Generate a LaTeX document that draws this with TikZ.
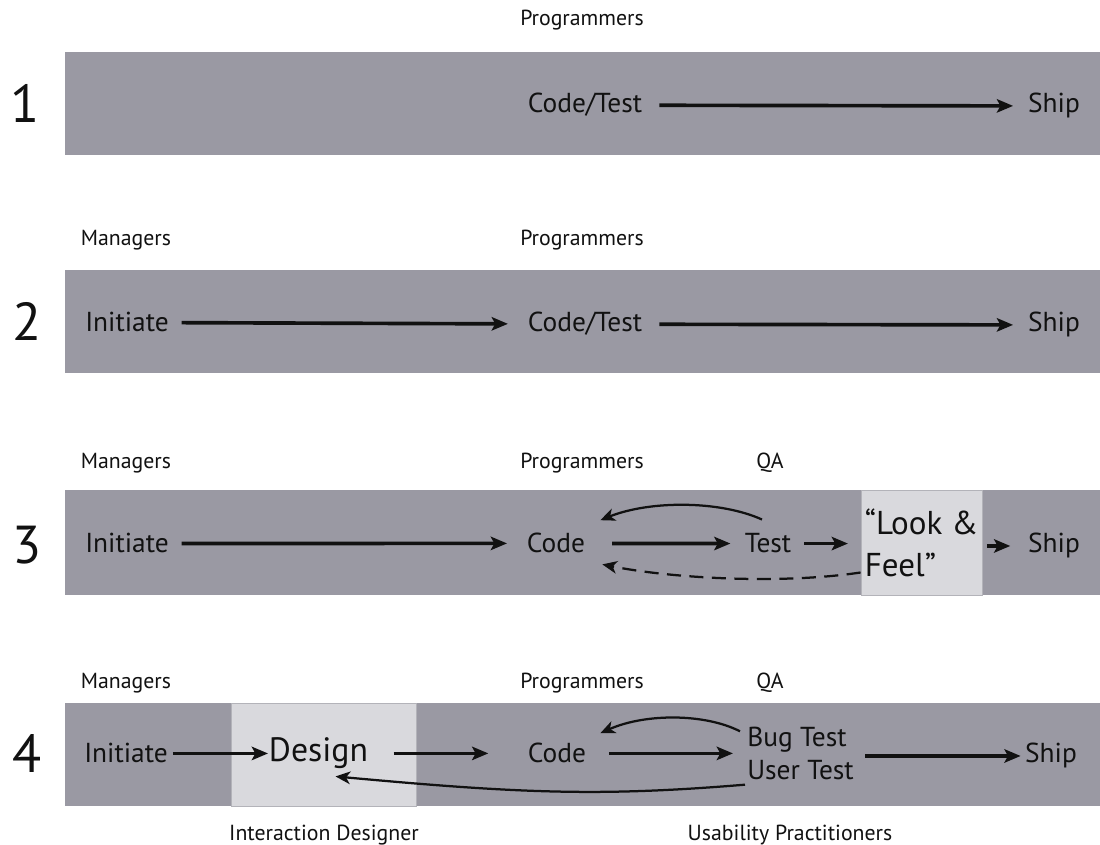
\documentclass[tikz,border=0pt]{standalone}
\usepackage{fontspec}
\setmainfont{PT Sans}
\usetikzlibrary{arrows.meta}
\definecolor{band}{HTML}{9A99A3}
\definecolor{boxfill}{HTML}{D9D9DD}
\definecolor{boxline}{HTML}{B3B3B9}
\definecolor{ink}{HTML}{111111}
\begin{document}
\begin{tikzpicture}[x=0.025cm,y=-0.025cm,
  lbl/.style={font=\fontsize{15.5}{17}\selectfont, text=ink, inner sep=0pt, anchor=base},
  txt/.style={font=\fontsize{19.5}{22}\selectfont, text=ink, inner sep=0pt, anchor=base},
  num/.style={font=\fontsize{38}{40}\selectfont, text=ink, inner sep=0pt, anchor=base},
  lightbox/.style={fill=boxfill, draw=boxline, line width=0.6pt, inner sep=0pt},
  flow/.style={-{Stealth[length=11.5pt,width=9.5pt,inset=2.5pt]}, line width=2.6pt, draw=ink},
  back/.style={-{Stealth[length=10.5pt,width=9pt,inset=3pt]}, line width=1.6pt, draw=ink},
]
\useasboundingbox (0,0) rectangle (1100,845);
\fill[white] (0,0) rectangle (1100,845);

% bands
\fill[band] (65,52) rectangle (1100,155);
\fill[band] (65,270) rectangle (1100,373);
\fill[band] (65,490) rectangle (1100,595);
\fill[band] (65,703) rectangle (1100,806);

% row numbers
\node[num] (n1) at (25,123) {1};
\node[num] (n2) at (27,341) {2};
\node[num] (n3) at (27,564) {3};
\node[num] (n4) at (27,773) {4};

% ---------- row 1
\node[lbl] (prog1) at (582,26) {Programmers};
\node[txt] (ct1) at (585,113) {Code/Test};
\node[txt] (ship1) at (1054,113) {Ship};
\draw[flow, shorten <=12pt, shorten >=10.5pt] (ct1) -- (ship1);

% ---------- row 2
\node[lbl] (mgr2) at (126,246) {Managers};
\node[lbl] (prog2) at (582,246) {Programmers};
\node[txt] (init2) at (127,332) {Initiate};
\node[txt] (ct2) at (585,332) {Code/Test};
\node[txt] (ship2) at (1054,332) {Ship};
\draw[flow, shorten <=9pt, shorten >=14pt] (init2) -- (ct2);
\draw[flow, shorten <=12pt, shorten >=10.5pt] (ct2) -- (ship2);

% ---------- row 3
\node[lbl] (mgr3) at (126,469) {Managers};
\node[lbl] (prog3) at (582,469) {Programmers};
\node[lbl] (qa3) at (770,469) {QA};
\node[txt] (init3) at (127,553) {Initiate};
\node[txt] (code3) at (556,553) {Code};
\node[txt] (test3) at (768,553) {Test};
\node[lightbox, minimum width=3.025cm, minimum height=2.625cm,
      font=\fontsize{23.5}{30}\selectfont, text=ink, align=left] (lf) at (921.5,542.5) {“Look \&\\Feel”};
\node[txt] (ship3) at (1054,553) {Ship};
\draw[flow, shorten <=9pt, shorten >=14pt] (init3) -- (code3);
\draw[flow, shorten <=19pt, shorten >=10pt] (code3) -- (test3);
\draw[flow, shorten <=9pt, shorten >=9pt] (test3) -- (test3 -| lf.west);
\draw[flow, shorten <=3.5pt, shorten >=12.5pt] (lf.east |- ship3) -- (ship3);
\draw[back] ([shift={(-6,-14)}]test3.north) .. controls +(-42,-19) and +(50,-20) .. ([shift={(15,-13)}]code3.north east);
\draw[back, dash pattern=on 10pt off 6pt] ([shift={(0,30)}]lf.west) .. controls +(-80,12) and +(70,14) .. ([shift={(17,21)}]code3.east);

% ---------- row 4
\node[lbl] (mgr4) at (126,689) {Managers};
\node[lbl] (prog4) at (582,689) {Programmers};
\node[lbl] (qa4) at (770,689) {QA};
\node[lightbox, minimum width=4.625cm, minimum height=2.575cm] (dbox) at (323.5,754.5) {};
\node[txt] (init4) at (126,763) {Initiate};
\node[font=\fontsize{24}{28}\selectfont, text=ink, inner sep=0pt, anchor=base] (design) at (318.5,762) {Design};
\node[txt] (code4) at (557,763) {Code};
\node[font=\fontsize{19.5}{23.5}\selectfont, text=ink, inner sep=0pt, align=left, anchor=west] (tests4) at (747,753) {Bug Test\\User Test};
\node[txt] (ship4) at (1051,763) {Ship};
\draw[flow, shorten <=3.5pt, shorten >=0.5pt] (init4) -- (init4 -| design.west);
\draw[flow, shorten <=18pt, shorten >=28pt] (design.east |- code4) -- (code4);
\draw[flow, shorten <=16pt, shorten >=10pt] (code4) -- (code4 -| tests4.west);
\draw[flow, shorten <=8pt, shorten >=3pt] (tests4.east |- ship4) -- (ship4);
\draw[back] ([shift={(-7,5)}]tests4.north west) .. controls +(-35,-18) and +(45,-20) .. ([shift={(14,-10)}]code4.north east);
\draw[back] ([shift={(-2,5)}]tests4.south west) .. controls +(-145,12) and +(185,17) .. ([shift={(17,7)}]design.south);

% bottom labels
\node[lbl] (idz) at (324,840) {Interaction Designer};
\node[lbl] (upr) at (790,840) {Usability Practitioners};
\end{tikzpicture}
\end{document}
